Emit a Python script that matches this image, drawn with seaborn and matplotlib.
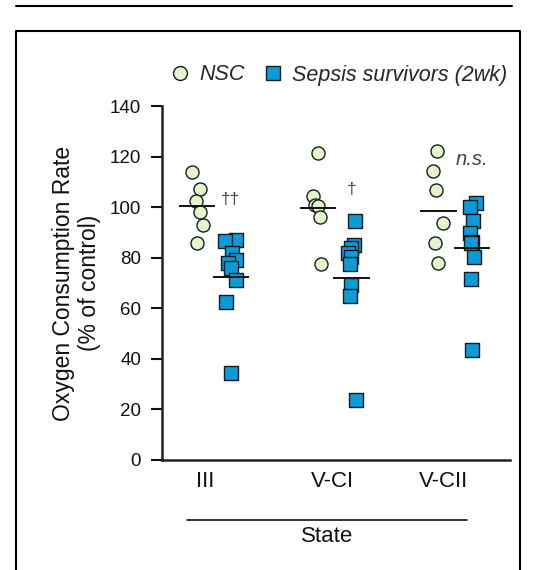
import numpy as np
import pandas as pd
import seaborn as sns
import matplotlib.pyplot as plt
from matplotlib.lines import Line2D

# --- Data ---
states = ["III", "V-CI", "V-CII"]
groups = ["NSC", "Sepsis survivors (2wk)"]

nsc_iii = [114.0, 107.0, 102.4, 97.9, 92.8, 86.0]
sep_iii = [87.0, 86.5, 81.8, 79.0, 78.0, 75.9, 71.1, 62.3, 34.5]
nsc_vci = [121.6, 104.5, 100.8, 100.5, 96.2, 77.7]
sep_vci = [94.6, 85.0, 83.8, 81.8, 80.2, 77.5, 69.2, 64.9, 23.7]
nsc_vcii = [122.3, 114.3, 106.7, 93.8, 85.9, 78.0]
sep_vcii = [101.7, 100.1, 94.6, 89.6, 86.3, 85.9, 80.4, 71.4, 43.5]

# horizontal summary bars as drawn in the figure
nsc_bar = [100.4, 99.6, 98.5]
sep_bar = [72.2, 71.9, 83.7]

sig_labels = ["††", "†", "n.s."]
sig_y = [103, 107, 119]

# --- Styling ---
NSC_FACE = "#e4f5cd"
SEP_FACE = "#0b9bd7"
EDGE = "#1a1a1a"
OFFSET = 0.14

sns.set_style("white")
plt.rcParams["font.family"] = ["Liberation Sans", "DejaVu Sans"]
np.random.seed(7)  # only for the small horizontal jitter

rows = []
for i, (nsc, sep) in enumerate([(nsc_iii, sep_iii), (nsc_vci, sep_vci), (nsc_vcii, sep_vcii)]):
    for v in nsc:
        rows.append({"state": states[i], "group": groups[0], "x": i - OFFSET, "value": v})
    for v in sep:
        rows.append({"state": states[i], "group": groups[1], "x": i + OFFSET, "value": v})
df = pd.DataFrame(rows)

fig = plt.figure(figsize=(5.46, 5.70), dpi=100)
ax = fig.add_axes([0.2967, 0.193, 0.637, 0.621])

sns.stripplot(data=df[df["group"] == groups[0]], x="x", y="value", native_scale=True,
              jitter=0.05, marker="o", size=9.4, color=NSC_FACE, edgecolor=EDGE,
              linewidth=1.0, ax=ax, legend=False)
sns.stripplot(data=df[df["group"] == groups[1]], x="x", y="value", native_scale=True,
              jitter=0.05, marker="s", size=9.4, color=SEP_FACE, edgecolor=EDGE,
              linewidth=1.0, ax=ax, legend=False)

# summary bars
for i in range(len(states)):
    ax.hlines(nsc_bar[i], i - OFFSET - 0.15, i - OFFSET + 0.15, color="#111111", lw=1.4, zorder=5)
    ax.hlines(sep_bar[i], i + OFFSET - 0.15, i + OFFSET + 0.15, color="#111111", lw=1.4, zorder=5)
    italic = sig_labels[i] == "n.s."
    ax.text(i + OFFSET, sig_y[i], sig_labels[i], ha="center", va="center",
            fontsize=14.5 if italic else 12.5, style="italic" if italic else "normal",
            color="#444444")

ax.set_xlim(-0.43, 2.45)
ax.set_ylim(0, 140)
ax.set_yticks(range(0, 141, 20))
ax.set_xticks([-0.07, 0.98, 1.9])
ax.set_xticklabels(states)
ax.tick_params(axis="x", length=0, labelsize=16, pad=8, colors="#111111")
ax.tick_params(axis="y", length=8, width=1.5, labelsize=13.5, pad=7, direction="out",
               left=True, colors="#111111")
ax.set_xlabel("")
ax.set_ylabel("Oxygen Consumption Rate\n(% of control)", fontsize=16.5, labelpad=6,
              color="#111111")
for side in ["top", "right"]:
    ax.spines[side].set_visible(False)
for side in ["left", "bottom"]:
    ax.spines[side].set_linewidth(1.8)
    ax.spines[side].set_color("#222222")

# "State" bracket below the tick labels
fig.add_artist(Line2D([187 / 546, 467 / 546], [1 - 520 / 570] * 2, color="#111111", lw=1.2))
fig.text(327 / 546, 1 - 537 / 570, "State", ha="center", va="center", fontsize=16,
         color="#111111")

# outer frame and top rule
fig.add_artist(Line2D([16 / 546, 512 / 546], [1 - 6 / 570] * 2, color="black", lw=1.5))
fig.add_artist(Line2D([16 / 546, 16 / 546, 520 / 546, 520 / 546],
                      [0, 1 - 31 / 570, 1 - 31 / 570, 0], color="black", lw=1.5))

# legend
handles = [
    Line2D([], [], ls="", marker="o", markersize=10, markerfacecolor=NSC_FACE,
           markeredgecolor=EDGE, markeredgewidth=1.0),
    Line2D([], [], ls="", marker="s", markersize=10, markerfacecolor=SEP_FACE,
           markeredgecolor=EDGE, markeredgewidth=1.0),
]
fig.legend(handles, groups, loc="center left", bbox_to_anchor=(0.278, 1 - 75 / 570),
           ncol=2, frameon=False, handlelength=0.8, handletextpad=0.5, columnspacing=0.9,
           prop={"style": "italic", "size": 15.5})

fig.savefig("out.png", dpi=100)
